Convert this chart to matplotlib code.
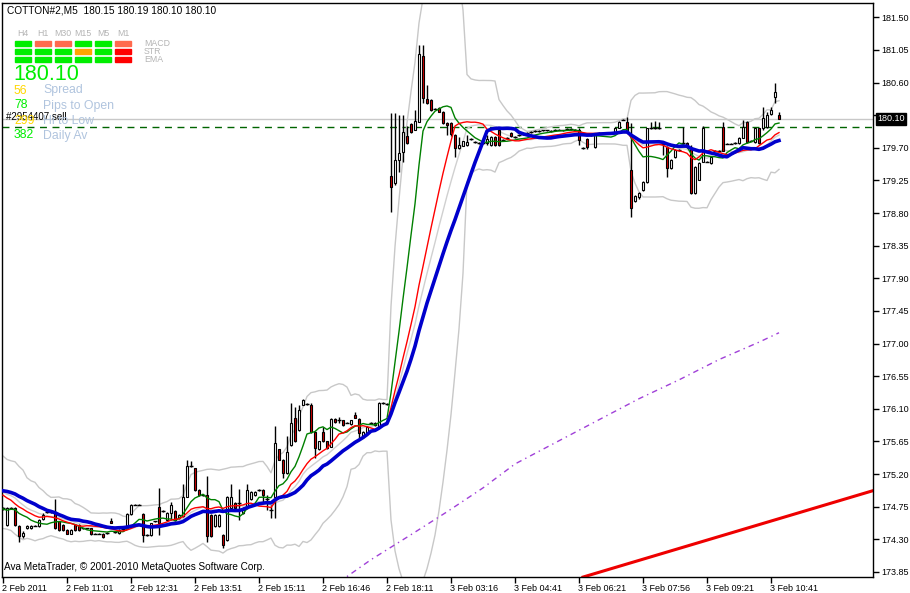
import numpy as np
import pandas as pd
import matplotlib
matplotlib.use('Agg')
import matplotlib.pyplot as plt
from matplotlib.patches import Rectangle
import matplotlib.transforms as mtransforms

plt.rcParams['font.family'] = ['Liberation Sans', 'DejaVu Sans']
plt.rcParams['lines.scale_dashes'] = False

# COTTON#2 M5 bars, 2 Feb 2011 - 3 Feb 2011
opens = [
    174.73, 174.50, 174.73, 174.73, 174.49, 174.34, 174.46, 174.45, 174.49, 174.48,
    174.58, 174.68, 174.68, 174.68, 174.55, 174.50, 174.43, 174.38, 174.50, 174.50,
    174.45, 174.45, 174.45, 174.38, 174.38, 174.38, 174.39, 174.56, 174.40, 174.39,
    174.43, 174.49, 174.65, 174.78, 174.78, 174.65, 174.36, 174.36, 174.55, 174.75,
    174.69, 174.57, 174.67, 174.69, 174.59, 174.62, 174.89, 175.31, 175.28, 174.98,
    174.91, 174.91, 174.64, 174.48, 174.48, 174.36, 174.29, 174.73, 174.80, 174.80,
    174.66, 174.73, 174.85, 174.91, 174.98, 174.98, 174.85, 174.70, 174.89, 175.54,
    175.40, 175.21, 175.60, 175.97, 175.81, 176.16, 176.17, 176.16, 175.78, 175.54,
    175.78, 175.65, 175.58, 175.96, 175.94, 175.94, 175.91, 175.89, 176.02, 175.96,
    175.71, 175.77, 175.91, 175.91, 175.85, 176.18, 176.17, 179.31, 179.22, 179.53,
    179.64, 179.86, 180.03, 179.95, 180.06, 180.97, 180.38, 180.36, 180.24, 180.25,
    180.20, 180.04, 180.04, 179.88, 179.70, 179.73, 179.74, 179.82, 179.78, 179.77,
    179.77, 179.77, 179.74, 179.85, 179.95, 179.81, 179.84, 179.91, 179.85, 179.88,
    179.89, 179.91, 179.92, 179.93, 179.93, 179.94, 179.94, 179.93, 179.95, 179.95,
    179.94, 179.96, 179.96, 179.95, 179.95, 179.70, 179.82, 179.88, 179.71, 179.91,
    179.91, 179.91, 179.91, 179.91, 179.98, 180.09, 180.06, 179.40, 178.97, 179.02,
    179.12, 179.23, 179.97, 179.97, 179.97, 179.75, 179.71, 179.42, 179.57, 179.67,
    179.77, 179.77, 179.70, 179.08, 179.26, 179.51, 179.51, 179.49, 179.66, 179.66,
    179.99, 179.76, 179.76, 179.77, 179.77, 179.84, 180.06, 179.80, 179.78, 179.97,
    179.97, 179.99, 180.17, 180.40, 180.15]
highs = [
    174.75, 174.75, 174.74, 174.75, 174.50, 174.41, 174.50, 174.50, 174.50, 174.58,
    174.66, 174.69, 174.69, 174.85, 174.56, 174.51, 174.44, 174.44, 174.51, 174.51,
    174.46, 174.46, 174.46, 174.39, 174.39, 174.39, 174.40, 174.60, 174.41, 174.44,
    174.45, 174.66, 174.79, 174.79, 174.79, 174.66, 174.37, 174.53, 174.56, 175.01,
    174.70, 174.68, 174.82, 174.70, 174.65, 175.07, 175.40, 175.38, 175.29, 174.99,
    174.92, 175.17, 174.65, 174.65, 174.65, 174.37, 174.90, 175.07, 174.81, 175.00,
    174.74, 175.07, 174.97, 174.97, 174.99, 174.99, 174.91, 174.78, 175.86, 175.55,
    175.41, 175.72, 176.18, 176.13, 176.16, 176.24, 176.18, 176.18, 175.79, 175.66,
    175.85, 175.66, 175.97, 175.97, 175.99, 175.95, 175.92, 175.95, 176.06, 175.97,
    175.79, 175.86, 175.92, 175.92, 176.19, 176.19, 176.18, 180.18, 180.18, 180.15,
    180.15, 180.00, 180.04, 180.22, 181.12, 181.12, 180.57, 180.37, 180.25, 180.26,
    180.21, 180.05, 180.05, 179.89, 179.85, 179.80, 179.88, 179.83, 179.79, 179.78,
    179.78, 179.88, 179.86, 179.86, 179.98, 179.82, 179.85, 179.92, 179.86, 179.89,
    179.90, 179.92, 179.93, 179.94, 179.94, 179.95, 179.95, 179.94, 179.96, 179.96,
    179.95, 179.97, 179.97, 179.96, 179.98, 179.71, 179.83, 179.89, 179.91, 179.92,
    179.92, 179.92, 179.92, 179.99, 180.07, 180.10, 180.13, 180.04, 179.05, 179.09,
    179.24, 179.98, 180.06, 180.07, 180.06, 179.80, 179.72, 179.54, 179.68, 179.68,
    179.99, 179.78, 179.74, 179.45, 179.50, 180.00, 179.52, 179.58, 179.67, 179.67,
    180.06, 179.77, 179.77, 179.78, 179.85, 180.09, 180.07, 179.81, 179.98, 179.98,
    180.26, 180.20, 180.26, 180.60, 180.19]
lows = [
    174.71, 174.48, 174.72, 174.49, 174.27, 174.32, 174.44, 174.44, 174.48, 174.47,
    174.57, 174.67, 174.67, 174.44, 174.42, 174.42, 174.37, 174.37, 174.42, 174.42,
    174.44, 174.44, 174.36, 174.37, 174.37, 174.32, 174.38, 174.52, 174.39, 174.38,
    174.42, 174.48, 174.64, 174.77, 174.77, 174.27, 174.35, 174.35, 174.54, 174.36,
    174.68, 174.56, 174.57, 174.56, 174.58, 174.61, 174.88, 175.30, 174.97, 174.90,
    174.90, 174.27, 174.33, 174.47, 174.47, 174.18, 174.28, 174.72, 174.72, 174.57,
    174.65, 174.72, 174.84, 174.90, 174.97, 174.80, 174.70, 174.60, 174.59, 175.39,
    175.15, 175.20, 175.59, 175.64, 175.80, 176.15, 176.16, 175.77, 175.42, 175.53,
    175.64, 175.55, 175.57, 175.91, 175.91, 175.87, 175.90, 175.88, 175.97, 175.70,
    175.70, 175.76, 175.90, 175.87, 175.84, 176.17, 176.15, 178.82, 179.19, 179.37,
    179.50, 179.76, 179.91, 179.94, 180.05, 180.32, 180.31, 180.21, 180.23, 180.19,
    180.03, 179.88, 179.86, 179.57, 179.69, 179.72, 179.73, 179.81, 179.77, 179.76,
    179.76, 179.74, 179.73, 179.73, 179.73, 179.80, 179.83, 179.85, 179.84, 179.87,
    179.88, 179.90, 179.91, 179.92, 179.92, 179.93, 179.93, 179.92, 179.94, 179.94,
    179.93, 179.95, 179.95, 179.94, 179.74, 179.69, 179.69, 179.87, 179.70, 179.90,
    179.90, 179.90, 179.90, 179.90, 179.97, 180.08, 179.90, 178.75, 178.95, 179.00,
    179.11, 179.22, 179.96, 179.96, 179.96, 179.60, 179.30, 179.41, 179.56, 179.66,
    179.76, 179.70, 179.07, 179.07, 179.25, 179.50, 179.50, 179.48, 179.65, 179.65,
    179.65, 179.75, 179.75, 179.76, 179.76, 179.83, 179.77, 179.79, 179.77, 179.76,
    179.95, 179.97, 180.16, 180.32, 180.10]
closes = [
    174.73, 174.73, 174.73, 174.50, 174.34, 174.39, 174.48, 174.49, 174.49, 174.57,
    174.64, 174.68, 174.68, 174.45, 174.43, 174.43, 174.38, 174.43, 174.43, 174.43,
    174.45, 174.45, 174.37, 174.38, 174.38, 174.33, 174.39, 174.53, 174.40, 174.43,
    174.44, 174.65, 174.78, 174.78, 174.78, 174.36, 174.36, 174.52, 174.55, 174.52,
    174.69, 174.67, 174.78, 174.57, 174.64, 174.89, 175.31, 175.31, 174.98, 174.91,
    174.91, 174.34, 174.34, 174.64, 174.64, 174.22, 174.89, 174.89, 174.73, 174.80,
    174.73, 174.98, 174.96, 174.96, 174.98, 174.91, 174.85, 174.70, 175.63, 175.40,
    175.21, 175.51, 175.90, 175.65, 176.09, 176.22, 176.17, 175.78, 175.56, 175.65,
    175.65, 175.56, 175.96, 175.92, 175.94, 175.88, 175.91, 175.94, 175.98, 175.77,
    175.78, 175.85, 175.91, 175.88, 176.18, 176.18, 176.17, 179.16, 179.53, 179.63,
    179.92, 179.77, 179.92, 180.07, 181.00, 180.39, 180.32, 180.22, 180.24, 180.20,
    180.04, 180.02, 179.89, 179.70, 179.74, 179.79, 179.78, 179.82, 179.78, 179.77,
    179.77, 179.82, 179.85, 179.74, 179.74, 179.81, 179.84, 179.86, 179.85, 179.88,
    179.89, 179.91, 179.92, 179.93, 179.93, 179.94, 179.94, 179.93, 179.95, 179.95,
    179.94, 179.96, 179.96, 179.95, 179.81, 179.70, 179.71, 179.88, 179.90, 179.91,
    179.91, 179.91, 179.91, 179.98, 180.06, 180.09, 179.92, 178.87, 179.04, 179.08,
    179.23, 179.97, 179.97, 179.97, 179.97, 179.75, 179.42, 179.53, 179.67, 179.67,
    179.77, 179.71, 179.08, 179.44, 179.49, 179.97, 179.51, 179.57, 179.66, 179.66,
    179.66, 179.76, 179.76, 179.77, 179.84, 179.99, 179.78, 179.80, 179.97, 179.77,
    180.11, 180.16, 180.22, 180.47, 180.10]

# closes before the visible window (estimated from where the averages start)
prior_closes = [174.95, 175.10, 175.00, 175.15, 175.05,
                175.30, 175.10, 175.13,
                175.40, 175.25, 175.35, 175.05, 174.90, 175.10, 174.95, 174.99,
                174.90, 174.60, 174.55, 174.80, 174.65, 174.70, 174.85, 174.70]

# long moving average (purple), read at a few bars
slow_ma_bars = [84, 92, 101, 111, 120, 128, 139, 149, 159, 169, 179, 189, 194]
slow_ma_vals = [173.71, 174.02, 174.33, 174.68, 175.01, 175.34, 175.66, 175.95,
                176.24, 176.50, 176.78, 177.02, 177.15]

# red trend line anchors
trend_bars = [145, 218]
trend_vals = [173.78, 174.98]

order_price = 179.99
bid = 180.10

tick_bars = list(range(0, 193, 16))
tick_labels = ['2 Feb 2011', '2 Feb 11:01', '2 Feb 12:31', '2 Feb 13:51', '2 Feb 15:11',
               '2 Feb 16:46', '2 Feb 18:11', '3 Feb 03:16', '3 Feb 04:41', '3 Feb 06:21',
               '3 Feb 07:56', '3 Feb 09:21', '3 Feb 10:41']
price_ticks = [181.50, 181.05, 180.60, 180.15, 179.70, 179.25, 178.80, 178.35, 177.90,
               177.45, 177.00, 176.55, 176.10, 175.65, 175.20, 174.75, 174.30, 173.85]

timeframes = ['H4', 'H1', 'M30', 'M15', 'M5', 'M1']
macd_state = ['up', 'down', 'down', 'up', 'up', 'down']
str_state = ['up', 'up', 'up', 'flat', 'up', 'strong_down']
ema_state = ['up', 'up', 'up', 'up', 'up', 'strong_down']
state_colors = {'up': '#00EE00', 'down': '#FF6A4D', 'flat': '#FFA500', 'strong_down': '#FF0000'}

info_vals = ['56', '78', '299', '382']
info_names = ['Spread', 'Pips to Open', 'Hi to Low', 'Daily Av']
info_colors = ['#FFD700', '#00EE00', '#FFD700', '#00EE00']

W, H = 910, 593
fig = plt.figure(figsize=(W / 100, H / 100), dpi=100)
fig.patch.set_facecolor('white')
ax = fig.add_axes([2 / W, 16 / H, 871 / W, 574 / H])

o = np.array(opens); h = np.array(highs); l = np.array(lows); c = np.array(closes)
x = np.arange(len(c))

# indicators from closes
s = pd.Series(np.r_[prior_closes, closes])
n0 = len(prior_closes)
ma_fast = s.rolling(9).mean().values[n0:]
ma_mid = s.rolling(17).mean().values[n0:]
ma_slow = s.rolling(25).mean().values[n0:]
bb_mid = s.rolling(20).mean()
bb_sd = s.rolling(20).std(ddof=0)
bb_up = (bb_mid + 2 * bb_sd).values[n0:]
bb_lo = (bb_mid - 2 * bb_sd).values[n0:]
bb_mid = bb_mid.values[n0:]

ax.axhline(bid, color='#C8C8C8', lw=1, zorder=1)
ax.axhline(order_price, color='#006400', lw=1, ls=(0, (5, 4)), zorder=2)

ax.plot(x, bb_up, color='#C8C8C8', lw=1, zorder=2)
ax.plot(x, bb_lo, color='#C8C8C8', lw=1, zorder=2)
ax.plot(x, bb_mid, color='#D0D0D0', lw=1, zorder=2)

ax.plot(slow_ma_bars, slow_ma_vals, color='#A040D8', lw=1, ls=(0, (4, 3, 1, 3)), zorder=2)
ax.plot(trend_bars, trend_vals, color='#EE0000', lw=2.2, zorder=2)

# candles
ax.vlines(x, l, h, color='black', lw=1, zorder=3)
body_lo = np.minimum(o, c)
body_h = np.abs(c - o)
big = body_h >= 0.015
up = c >= o
ax.bar(x[big & up], body_h[big & up], bottom=body_lo[big & up], width=0.62,
       color='white', edgecolor='black', lw=0.8, zorder=4)
ax.bar(x[big & ~up], body_h[big & ~up], bottom=body_lo[big & ~up], width=0.62,
       color='#D40000', edgecolor='black', lw=0.8, zorder=4)
ax.hlines(c[~big], x[~big] - 0.4, x[~big] + 0.4, color='black', lw=1, zorder=4)

ax.plot(x, ma_fast, color='#008000', lw=1, zorder=5)
ax.plot(x, ma_mid, color='#FF0000', lw=1, zorder=5)
ax.plot(x, ma_slow, color='#0000CC', lw=2.6, zorder=6)

ax.set_xlim(-0.25, 217.5)
ax.set_ylim(173.781, 181.698)
for sp in ax.spines.values():
    sp.set_color('black')
    sp.set_linewidth(1)

ax.yaxis.tick_right()
ax.set_yticks(price_ticks)
# the 180.15 label sits under the bid box on the scale
ax.set_yticklabels(['' if abs(p - bid) < 0.1 else f'{p:.2f}' for p in price_ticks])
ax.tick_params(axis='y', direction='out', length=4, width=1, pad=2, labelsize=6.5)
ax.set_xticks(tick_bars)
ax.set_xticklabels(tick_labels, ha='left')
ax.tick_params(axis='x', direction='out', length=4, width=1, pad=1, labelsize=6.5)
for t in ax.get_xticklabels():
    t.set_transform(t.get_transform() + mtransforms.ScaledTranslation(-1 / 100, 0, fig.dpi_scale_trans))

# bid label on the price scale
ax.annotate(f'{bid:.2f}', xy=(1, bid), xycoords=('axes fraction', 'data'),
            xytext=(3, 0), textcoords='offset points', va='center', ha='left',
            fontsize=6.5, color='white', annotation_clip=False, zorder=10,
            bbox=dict(boxstyle='square,pad=0.15', fc='black', ec='black'))


def fpos(px, py):
    return px / W, 1 - py / H


fig.text(*fpos(7, 10.5), 'COTTON#2,M5  180.15 180.19 180.10 180.10', fontsize=7.3,
         va='center', ha='left', color='black')

for k, tf in enumerate(timeframes):
    fig.text(*fpos(23 + 20 * k, 33.5), tf, fontsize=6.3, color='#B4B4B4', ha='center', va='center')
    for r, row in enumerate([macd_state, str_state, ema_state]):
        fx, fy = fpos(15 + 20 * k, 46 + 8 * r)
        fig.patches.append(Rectangle((fx, fy), 16 / W, 5 / H, transform=fig.transFigure,
                                     color=state_colors[row[k]], zorder=5))
for r, name in enumerate(['MACD', 'STR', 'EMA']):
    fig.text(*fpos(144, 43.5 + 8 * r), name, fontsize=6.3, color='#B4B4B4', ha='left', va='center')

fig.text(*fpos(13, 74), '180.10', fontsize=15.5, color='#00EE00', ha='left', va='center')

fig.text(*fpos(6, 117), '#2954407 sell', fontsize=7, color='black', ha='left', va='center', zorder=3)
for k in range(4):
    fig.text(*fpos(14, 90.5 + 15 * k), info_vals[k], fontsize=8.8, color=info_colors[k],
             ha='left', va='center', zorder=4)
    fig.text(*fpos(43, 90.5 + 15 * k), info_names[k], fontsize=8.8, color='#B0C4DE',
             ha='left', va='center', zorder=4)

fig.text(*fpos(4, 567), 'Ava MetaTrader, \u00a9 2001-2010 MetaQuotes Software Corp.', fontsize=7.2,
         color='black', ha='left', va='center')

fig.savefig('out.png', dpi=100, facecolor='white')
